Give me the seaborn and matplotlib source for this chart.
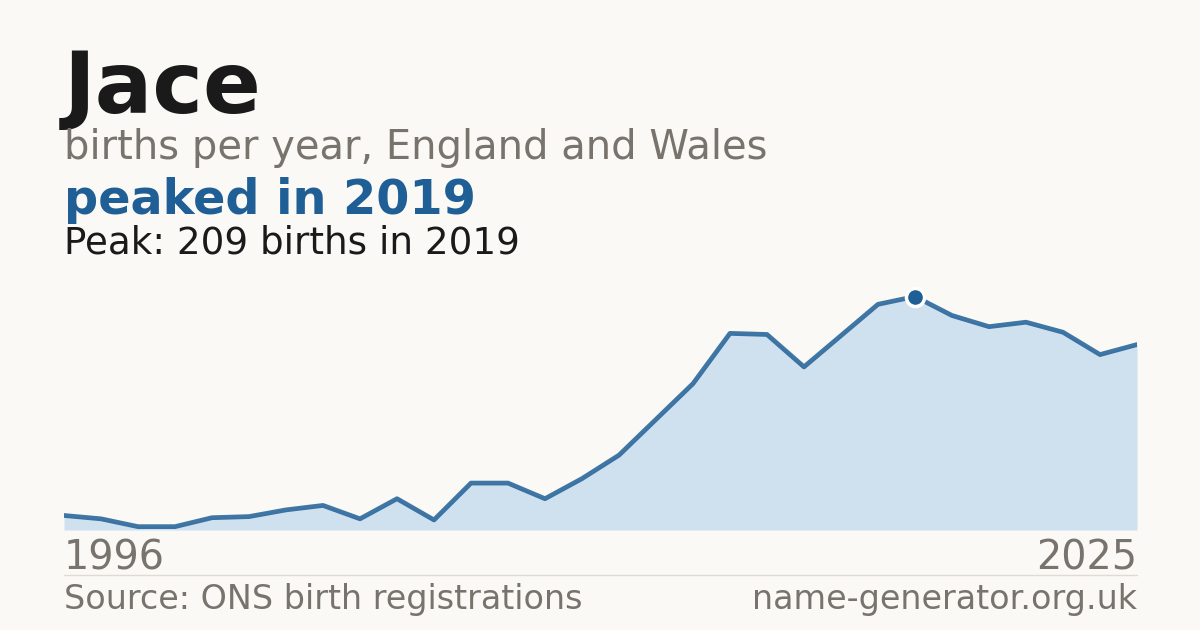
import numpy as np
import pandas as pd
import matplotlib
matplotlib.use("Agg")
import matplotlib.pyplot as plt
import seaborn as sns

# Data
years = list(range(1996, 2026))
births = [13, 10, 3, 3, 11, 12, 18, 22, 10, 28,
          9, 42, 42, 28, 46, 67, 99, 131, 176, 175,
          146, 174, 202, 209, 192, 182, 186, 177, 157, 166]

name = "Jace"
subtitle = "births per year, England and Wales"
headline = "peaked in 2019"
source = "Source: ONS birth registrations"
site = "name-generator.org.uk"

df = pd.DataFrame({"year": years, "births": births})
peak_idx = df["births"].idxmax()
peak_year = int(df.loc[peak_idx, "year"])
peak_val = int(df.loc[peak_idx, "births"])

BG = "#faf9f5"
BLUE = "#1f5f96"
FILL = "#cfe0ef"
GREY = "#78746d"
DARK = "#1a1a1a"

sns.set_theme(style="white")
plt.rcParams["font.family"] = ["DejaVu Sans"]

fig = plt.figure(figsize=(12, 6.3), dpi=100, facecolor=BG)
W, H = 1200, 630

# axes placed in pixel terms: x 64..1137, y 270..530
ax = fig.add_axes([64 / W, 1 - 530 / H, (1137 - 64) / W, 260 / H])
ax.set_facecolor(BG)

ax.fill_between(df["year"], df["births"], 0, color=FILL, linewidth=0, zorder=1)
sns.lineplot(data=df, x="year", y="births", ax=ax, color=BLUE, linewidth=3.4,
             alpha=0.85, zorder=2)
ax.scatter([peak_year], [peak_val], s=170, color=BLUE, edgecolor="white",
           linewidth=2.5, zorder=3, clip_on=False)

ax.set_xlim(years[0], years[-1])
ax.set_ylim(0, peak_val * 260 / 233.5)
ax.axis("off")

# header texts
fig.text(64 / W, 1 - 113 / H, name, fontsize=61.5, fontweight="bold", color=DARK, va="baseline")
fig.text(64 / W, 1 - 159.5 / H, subtitle, fontsize=28.8, color=GREY, va="baseline")
fig.text(64 / W, 1 - 214 / H, headline, fontsize=34.4, fontweight="bold", color=BLUE, va="baseline")
fig.text(64 / W, 1 - 254 / H, f"Peak: {peak_val} births in {peak_year}", fontsize=26.8,
         color=DARK, va="baseline")

# axis end labels
fig.text(64 / W, 1 - 569.5 / H, str(years[0]), fontsize=28.6, color=GREY, va="baseline")
fig.text(1137 / W, 1 - 569.5 / H, str(years[-1]), fontsize=28.6, color=GREY, va="baseline", ha="right")

# divider and footer
fig.add_artist(plt.Line2D([64 / W, 1137 / W], [1 - 574.5 / H, 1 - 574.5 / H],
                          color="#dedbd4", linewidth=1))
fig.text(64 / W, 1 - 609.5 / H, source, fontsize=24, color=GREY, va="baseline")
fig.text(1137 / W, 1 - 609.5 / H, site, fontsize=24, color=GREY, va="baseline", ha="right")

fig.savefig("out.png", dpi=100, facecolor=BG)
